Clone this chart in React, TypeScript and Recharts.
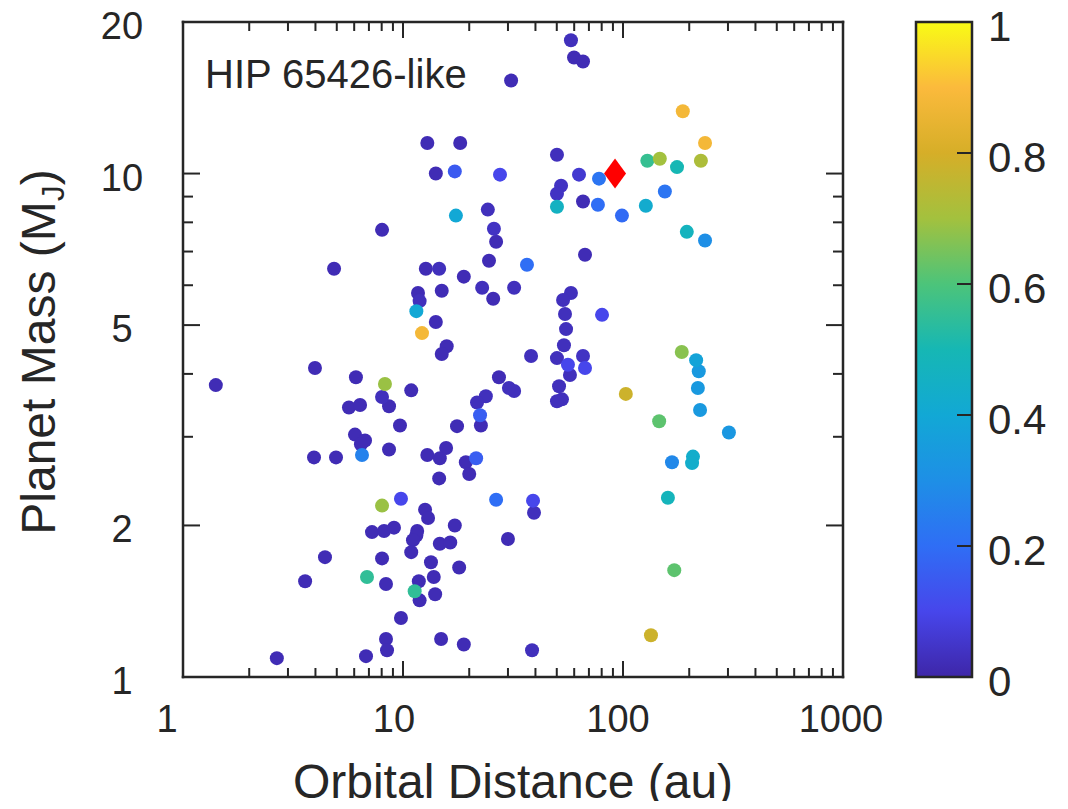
import React from 'react'
import { ScatterChart, Scatter, XAxis, YAxis } from 'recharts'

// orbital distance (au), planet mass (M_J), colour value (0..1)
const orbitalDistance = [
  31.0, 12.9, 18.2, 14.1, 17.2, 27.6, 17.4, 24.3, 25.9, 8.03, 26.5,
  58.0, 59.9, 65.8, 187, 236, 50.1, 129, 147, 176, 226, 63.1, 77.8, 52.3, 50.1, 155,
  65.8, 76.9, 50.1, 127, 98.9, 195, 236,
  67.2, 36.6, 32.0, 58.0, 53.4, 54.5, 80.3, 55.1, 53.9, 38.2, 50.1, 65.8, 56.2, 67.2,
  57.4, 185, 215, 221, 32.0, 51.2, 52.8, 50.1, 103, 219, 224, 146, 303,
  167, 208, 206, 39.0, 39.4, 160, 171, 134, 38.6,
  4.86, 12.7, 14.6, 18.9, 24.6, 22.9, 25.7, 11.7, 11.9, 15.0, 11.5, 14.1, 12.2, 15.8,
  15.0, 3.98, 1.41, 6.11, 8.28, 10.9, 27.3, 30.3, 8.03, 8.64, 5.68, 6.38, 23.8, 21.7,
  22.4, 22.6, 9.69, 17.6, 6.05, 6.72, 6.44, 8.64, 15.7, 6.51, 3.94, 4.96, 12.9, 14.7,
  21.5, 19.3, 20.0, 14.6, 8.03, 9.79, 26.5, 12.6, 13.0, 7.23, 8.20, 9.10, 11.6, 11.5,
  11.1, 17.2, 30.0, 14.7, 16.4, 10.9, 4.42, 8.03, 13.4, 18.0, 13.8, 3.59, 6.86, 8.37,
  11.8, 11.3, 14.0, 11.9, 9.79, 8.37, 8.46, 14.9, 18.9, 2.67, 6.79,
]

const planetMass = [
  15.3, 11.5, 11.5, 10.0, 10.1, 9.95, 8.25, 8.48, 7.77, 7.73, 7.32,
  18.4, 17.0, 16.7, 13.3, 11.5, 10.9, 10.6, 10.7, 10.3, 10.6, 9.95, 9.77, 9.46, 9.12, 9.21,
  8.80, 8.67, 8.59, 8.63, 8.25, 7.66, 7.36,
  6.90, 6.59, 5.93, 5.79, 5.61, 5.26, 5.24, 4.91, 4.56, 4.34, 4.30, 4.34, 4.17, 4.11,
  3.98, 4.42, 4.26, 4.05, 3.70, 3.78, 3.56, 3.53, 3.65, 3.75, 3.39, 3.22, 3.06,
  2.67, 2.74, 2.66, 2.24, 2.12, 2.27, 1.63, 1.21, 1.13,
  6.47, 6.47, 6.47, 6.24, 6.71, 5.93, 5.64, 5.79, 5.58, 5.85, 5.33, 5.07, 4.82, 4.54,
  4.38, 4.11, 3.80, 3.94, 3.82, 3.71, 3.94, 3.75, 3.60, 3.45, 3.43, 3.47, 3.61, 3.51,
  3.31, 3.16, 3.16, 3.15, 3.03, 2.95, 2.90, 2.83, 2.85, 2.76, 2.73, 2.73, 2.76, 2.72,
  2.72, 2.67, 2.53, 2.48, 2.19, 2.26, 2.25, 2.15, 2.07, 1.94, 1.95, 1.98, 1.95, 1.91,
  1.87, 2.00, 1.88, 1.84, 1.85, 1.77, 1.73, 1.72, 1.69, 1.65, 1.58, 1.55, 1.58, 1.53,
  1.55, 1.48, 1.46, 1.42, 1.31, 1.19, 1.13, 1.19, 1.16, 1.09, 1.10,
]

const colorValue = [
  0.02, 0.02, 0.02, 0.02, 0.15, 0.1, 0.4, 0.03, 0.04, 0.02, 0.02,
  0.03, 0.02, 0.02, 0.88, 0.88, 0.03, 0.56, 0.7, 0.5, 0.72, 0.06, 0.22, 0.04, 0.04, 0.22,
  0.02, 0.2, 0.46, 0.42, 0.19, 0.47, 0.3,
  0.02, 0.2, 0.03, 0.03, 0.03, 0.03, 0.1, 0.03, 0.03, 0.03, 0.03, 0.04, 0.1, 0.1,
  0.03, 0.67, 0.38, 0.34, 0.03, 0.03, 0.03, 0.03, 0.78, 0.34, 0.34, 0.62, 0.33,
  0.28, 0.43, 0.43, 0.1, 0.03, 0.48, 0.62, 0.78, 0.03,
  0.02, 0.02, 0.03, 0.02, 0.02, 0.03, 0.02, 0.02, 0.03, 0.02, 0.4, 0.02, 0.88, 0.02,
  0.02, 0.02, 0.02, 0.02, 0.69, 0.02, 0.02, 0.03, 0.03, 0.02, 0.02, 0.02, 0.03, 0.03,
  0.16, 0.02, 0.02, 0.02, 0.02, 0.02, 0.02, 0.02, 0.02, 0.26, 0.02, 0.02, 0.02, 0.02,
  0.16, 0.02, 0.02, 0.02, 0.69, 0.1, 0.2, 0.02, 0.02, 0.02, 0.02, 0.02, 0.02, 0.02,
  0.02, 0.02, 0.02, 0.02, 0.02, 0.02, 0.02, 0.02, 0.02, 0.02, 0.02, 0.02, 0.55, 0.02,
  0.02, 0.55, 0.02, 0.02, 0.02, 0.02, 0.02, 0.02, 0.02, 0.02, 0.02,
]

const hipDistance = [92]
const hipMass = [10]

const xTicks = [1, 2, 3, 4, 5, 6, 7, 8, 9, 10, 20, 30, 40, 50, 60, 70, 80, 90, 100, 200, 300, 400, 500, 600, 700, 800, 900, 1000]
const xLabelTicks = [1, 10, 100, 1000]
const yTicks = [1, 2, 3, 4, 5, 6, 7, 8, 9, 10, 20]
const yLabelTicks = [1, 2, 5, 10, 20]
const colorbarTicks = [0, 0.2, 0.4, 0.6, 0.8, 1]

// parula-like colormap sampled from the colorbar, 0 -> 1 in steps of 0.1
const parulaStops = ['#3E26A8', '#4746EB', '#2F6EF5', '#1E8FE6', '#12A8D5', '#16B7B4', '#4CC47A', '#A3C13E', '#D6AE28', '#FBBA3C', '#F9FB15']

const hexToRgb = (h: string) => [1, 3, 5].map((i) => parseInt(h.slice(i, i + 2), 16))

function parula(v: number) {
  const t = Math.max(0, Math.min(1, v)) * (parulaStops.length - 1)
  const i = Math.min(Math.floor(t), parulaStops.length - 2)
  const f = t - i
  const a = hexToRgb(parulaStops[i])
  const b = hexToRgb(parulaStops[i + 1])
  const c = a.map((ch, k) => Math.round(ch + (b[k] - ch) * f))
  return `rgb(${c[0]},${c[1]},${c[2]})`
}

const planets = orbitalDistance
  .map((d, i) => ({ x: d, y: planetMass[i], c: colorValue[i] }))
  .sort((a, b) => a.c - b.c)

const hip = hipDistance.map((d, i) => ({ x: d, y: hipMass[i] }))

// the page has an 8px body margin; the wrapper pulls the chart back to the corner
const W = 1068
const H = 809
const PLOT = { left: 183, right: 843, top: 22, bottom: 677 }
const FONT = '"Liberation Sans", Arial, Helvetica, sans-serif'
const INK = '#262626'
const X_LABEL_DX: Record<number, number> = { 1: -16, 10: -9, 100: -5, 1000: -2 }

const BottomTick = (props: any) => {
  const { x, y, payload } = props
  const major = xLabelTicks.includes(payload.value)
  return (
    <g>
      <line x1={x} x2={x} y1={y} y2={y - (major ? 16 : 9)} stroke={INK} strokeWidth={2} />
      {major && (
        <text x={x + (X_LABEL_DX[payload.value] || 0)} y={y + 55} textAnchor="middle" fontSize={38} fill={INK} fontFamily={FONT}>
          {payload.value}
        </text>
      )}
    </g>
  )
}

const TopTick = (props: any) => {
  const { x, y, payload } = props
  const major = xLabelTicks.includes(payload.value)
  return <line x1={x} x2={x} y1={y} y2={y + (major ? 16 : 9)} stroke={INK} strokeWidth={2} />
}

const LeftTick = (props: any) => {
  const { x, y, payload } = props
  const major = yLabelTicks.includes(payload.value)
  return (
    <g>
      <line x1={x} x2={x + (major ? 17 : 10)} y1={y} y2={y} stroke={INK} strokeWidth={2} />
      {major && (
        <text x={x - 61} y={y + 17} textAnchor="middle" fontSize={38} fill={INK} fontFamily={FONT}>
          {payload.value}
        </text>
      )}
    </g>
  )
}

const RightTick = (props: any) => {
  const { x, y, payload } = props
  const major = yLabelTicks.includes(payload.value)
  return <line x1={x} x2={x - (major ? 17 : 10)} y1={y} y2={y} stroke={INK} strokeWidth={2} />
}

const Dot = (props: any) => <circle cx={props.cx} cy={props.cy} r={7} fill={parula(props.payload.c)} />

const Diamond = (props: any) => {
  const { cx, cy } = props
  return <polygon points={`${cx},${cy - 15} ${cx + 11},${cy} ${cx},${cy + 15} ${cx - 11},${cy}`} fill="#FF0000" />
}

const axisLine = { stroke: INK, strokeWidth: 2.5, strokeLinecap: 'square' as const }

const CB = { left: 916, right: 972, top: 22, bottom: 677 }

function Overlay() {
  const cbY = (v: number) => CB.bottom - v * (CB.bottom - CB.top)
  return (
    <svg width={W} height={H} style={{ position: 'absolute', left: 0, top: 0, pointerEvents: 'none' }} fontFamily={FONT}>
      <defs>
        <linearGradient id="parula" x1="0" y1="1" x2="0" y2="0">
          {parulaStops.map((c, i) => (
            <stop key={i} offset={i / (parulaStops.length - 1)} stopColor={c} />
          ))}
        </linearGradient>
      </defs>
      <text x={205} y={88} fontSize={40} fill={INK}>HIP 65426-like</text>
      <text x={513} y={798} fontSize={48} fill={INK} textAnchor="middle">Orbital Distance (au)</text>
      <text x={55} y={352} fontSize={48} fill={INK} textAnchor="middle" transform="rotate(-90 55 352)">
        Planet Mass (M<tspan fontSize={32} dy={9}>J</tspan><tspan dy={-9}>)</tspan>
      </text>
      <rect x={CB.left} y={CB.top} width={CB.right - CB.left} height={CB.bottom - CB.top} fill="url(#parula)" stroke={INK} strokeWidth={2.5} />
      {colorbarTicks.map((t) => (
        <g key={t}>
          {t > 0 && t < 1 && <line x1={CB.right} x2={CB.right - 15} y1={cbY(t)} y2={cbY(t)} stroke={INK} strokeWidth={2} />}
          <text x={988} y={cbY(t) + 19} fontSize={42} fill={INK}>{t}</text>
        </g>
      ))}
    </svg>
  )
}

export default function App() {
  return (
    <div style={{ position: 'relative', width: W, height: H, margin: -8, background: '#fff', fontFamily: FONT }}>
      <ScatterChart
        width={W}
        height={H}
        margin={{ top: PLOT.top - 10, right: W - PLOT.right - 10, bottom: H - PLOT.bottom - 60, left: PLOT.left - 60 }}
      >
        <XAxis xAxisId="b" dataKey="x" type="number" scale="log" domain={[1, 1000]} allowDataOverflow ticks={xTicks} interval={0} height={60} tickSize={0} tickMargin={0} tickLine={false} axisLine={axisLine} tick={<BottomTick />} />
        <XAxis xAxisId="t" orientation="top" dataKey="x" type="number" scale="log" domain={[1, 1000]} allowDataOverflow ticks={xTicks} interval={0} height={10} tickSize={0} tickMargin={0} tickLine={false} axisLine={axisLine} tick={<TopTick />} />
        <YAxis yAxisId="l" dataKey="y" type="number" scale="log" domain={[1, 20]} allowDataOverflow ticks={yTicks} interval={0} width={60} tickSize={0} tickMargin={0} tickLine={false} axisLine={axisLine} tick={<LeftTick />} />
        <YAxis yAxisId="r" orientation="right" dataKey="y" type="number" scale="log" domain={[1, 20]} allowDataOverflow ticks={yTicks} interval={0} width={10} tickSize={0} tickMargin={0} tickLine={false} axisLine={axisLine} tick={<RightTick />} />
        <Scatter data={planets} xAxisId="b" yAxisId="l" shape={<Dot />} isAnimationActive={false} />
        <Scatter data={hip} xAxisId="b" yAxisId="l" shape={<Diamond />} isAnimationActive={false} />
      </ScatterChart>
      <Overlay />
    </div>
  )
}
